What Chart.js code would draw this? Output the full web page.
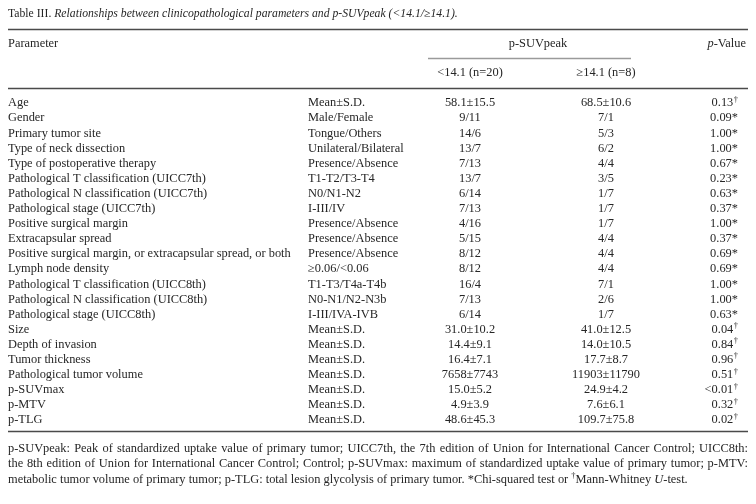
<!DOCTYPE html>
<html>
<head>
<meta charset="utf-8">
<script src="https://cdn.jsdelivr.net/npm/chart.js@4.4.1/dist/chart.umd.min.js"></script>
<style>
html,body{margin:0;padding:0;background:#fff;}
#wrap{position:relative;width:756px;height:504px;}
</style>
</head>
<body>
<div id="wrap"><canvas id="c" width="756" height="504"></canvas></div>
<script>
// ---- data ----
const parameters = ["Age","Gender","Primary tumor site","Type of neck dissection","Type of postoperative therapy","Pathological T classification (UICC7th)","Pathological N classification (UICC7th)","Pathological stage (UICC7th)","Positive surgical margin","Extracapsular spread","Positive surgical margin, or extracapsular spread, or both","Lymph node density","Pathological T classification (UICC8th)","Pathological N classification (UICC8th)","Pathological stage (UICC8th)","Size","Depth of invasion","Tumor thickness","Pathological tumor volume","p-SUVmax","p-MTV","p-TLG"];
const subgroups = ["Mean±S.D.","Male/Female","Tongue/Others","Unilateral/Bilateral","Presence/Absence","T1-T2/T3-T4","N0/N1-N2","I-III/IV","Presence/Absence","Presence/Absence","Presence/Absence","≥0.06/<0.06","T1-T3/T4a-T4b","N0-N1/N2-N3b","I-III/IVA-IVB","Mean±S.D.","Mean±S.D.","Mean±S.D.","Mean±S.D.","Mean±S.D.","Mean±S.D.","Mean±S.D."];
const lowGroup = ["58.1±15.5","9/11","14/6","13/7","7/13","13/7","6/14","7/13","4/16","5/15","8/12","8/12","16/4","7/13","6/14","31.0±10.2","14.4±9.1","16.4±7.1","7658±7743","15.0±5.2","4.9±3.9","48.6±45.3"];
const highGroup = ["68.5±10.6","7/1","5/3","6/2","4/4","3/5","1/7","1/7","1/7","4/4","4/4","4/4","7/1","2/6","1/7","41.0±12.5","14.0±10.5","17.7±8.7","11903±11790","24.9±4.2","7.6±6.1","109.7±75.8"];
const pValues = ["0.13","0.09","1.00","1.00","0.67","0.23","0.63","0.37","1.00","0.37","0.69","0.69","1.00","1.00","0.63","0.04","0.84","0.96","0.51","<0.01","0.32","0.02"];
const pTests = ["†","*","*","*","*","*","*","*","*","*","*","*","*","*","*","†","†","†","†","†","†","†"];
const columnKeys = ["param","sub","low","high","p"];
const headerTop = "p-SUVpeak";
const headerLow = "<14.1 (n=20)";
const headerHigh = "≥14.1 (n=8)";
const titleLead = "Table III. ";
const titleItalic = "Relationships between clinicopathological parameters and p-SUVpeak (<14.1/≥14.1).";
const footLines = [
 "p-SUVpeak: Peak of standardized uptake value of primary tumor; UICC7th, the 7th edition of Union for International Cancer Control; UICC8th:",
 "the 8th edition of Union for International Cancer Control; Control; p-SUVmax: maximum of standardized uptake value of primary tumor; p-MTV:",
 "metabolic tumor volume of primary tumor; p-TLG: total lesion glycolysis of primary tumor. *Chi-squared test or †Mann-Whitney U-test."
];

// ---- layout / style ----
const FONT = '"Liberation Serif","DejaVu Serif",serif';
const FS = 12.4;
const TFS = 11.7;
const INK = '#262626';
const colX = {param:0, sub:300, low:462, high:598, p:730}; // in x-scale units (px from table left)
const colAlign = {param:'left', sub:'left', low:'center', high:'center', p:'right'};
const TL = 8, TR = 748;

function font(style, size){ return (style||'') + ' ' + (size||FS) + 'px ' + FONT; }

// points: one invisible point per cell
const pts = [];
parameters.forEach((p,i)=>{ columnKeys.forEach(k=>pts.push({x:colX[k], y:p, k:k, i:i})); });

const tablePlugin = {
  id:'tablePlugin',
  afterDatasetsDraw(chart){
    const ctx = chart.ctx;
    const xs = chart.scales.x, ys = chart.scales.y;
    const pitch = ys.getPixelForValue(1) - ys.getPixelForValue(0);
    const X = v => xs.getPixelForValue(v);
    ctx.save();
    ctx.fillStyle = INK;
    ctx.textBaseline = 'middle';
    const supFont = (FS*0.68)+'px '+FONT;
    // cells
    const meta = chart.getDatasetMeta(0);
    meta.data.forEach((el,idx)=>{
      const d = pts[idx];
      const i = d.i;
      ctx.font = font();
      ctx.textAlign = colAlign[d.k];
      let txt;
      if(d.k==='param') txt = parameters[i];
      else if(d.k==='sub') txt = subgroups[i];
      else if(d.k==='low') txt = lowGroup[i];
      else if(d.k==='high') txt = highGroup[i];
      if(d.k!=='p'){ ctx.fillText(txt, el.x, el.y); return; }
      const mark = pTests[i];
      if(mark==='†'){
        ctx.font = supFont;
        const mw = ctx.measureText(mark).width;
        ctx.textAlign='right';
        ctx.fillText(mark, el.x, el.y-3.5);
        ctx.font = font();
        ctx.fillText(pValues[i], el.x-mw-0.5, el.y);
      } else {
        ctx.fillText(pValues[i]+mark, el.x, el.y);
      }
    });
    // header
    const y0 = ys.getPixelForValue(0);
    const hy1 = y0 - 59, hy2 = y0 - 30.5;
    ctx.font = font(); ctx.textAlign='left';
    ctx.fillText('Parameter', X(colX.param), hy1);
    ctx.textAlign='center';
    const midPeak = (X(colX.low)+X(colX.high))/2;
    ctx.fillText(headerTop, midPeak, hy1);
    ctx.fillText(headerLow, X(colX.low), hy2);
    ctx.fillText(headerHigh, X(colX.high), hy2);
    // p-Value header
    ctx.textAlign='left';
    ctx.font = font();
    const wv = ctx.measureText('-Value').width;
    ctx.font = font('italic');
    const wp = ctx.measureText('p').width;
    const pvx = X(colX.p) + 8 - wv - wp;
    ctx.fillText('p', pvx, hy1);
    ctx.font = font();
    ctx.fillText('-Value', pvx+wp, hy1);
    // title
    const ty = y0 - 89.5;
    ctx.font = font('', TFS);
    ctx.fillText(titleLead, TL, ty);
    const wl = ctx.measureText(titleLead).width;
    ctx.font = font('italic', TFS);
    ctx.fillText(titleItalic, TL+wl, ty);
    // rules
    function rule(y, x1, x2, col, w){ ctx.beginPath(); ctx.strokeStyle=col; ctx.lineWidth=w; ctx.moveTo(x1,y); ctx.lineTo(x2,y); ctx.stroke(); }
    rule(Math.round(y0 - 74)+0.5, TL, TR, '#4a4a4a', 1.4);
    rule(Math.round(y0 - 45.5)+0.5, X(colX.low)-42, X(colX.high)+25, '#9a9a9a', 1.4);
    rule(Math.round(y0 - 15)+0.5, TL, TR, '#4a4a4a', 1.4);
    const yl = ys.getPixelForValue(parameters.length-1);
    const yb = Math.round(yl + pitch*0.75)+0.5;
    rule(yb, TL, TR, '#4a4a4a', 1.4);
    // footnotes (justified except last)
    const fp = 15.2;
    footLines.forEach((line, li)=>{
      const fy = yb + 17.5 + li*fp;
      const words = line.split(' ');
      const justify = li < footLines.length-1;
      const segs = words.map(w=>{
        const parts = [];
        if(w.startsWith('†')){ parts.push({t:'†', sup:true}); parts.push({t:w.slice(1)}); }
        else if(w==='U-test.'){ parts.push({t:'U', it:true}); parts.push({t:'-test.'}); }
        else parts.push({t:w});
        let width=0;
        parts.forEach(p=>{ ctx.font = p.sup ? supFont : font(p.it?'italic':''); p.w = ctx.measureText(p.t).width; width+=p.w; });
        return {parts, width};
      });
      ctx.font = font();
      const spaceW = ctx.measureText(' ').width;
      const total = segs.reduce((a,s)=>a+s.width,0);
      const gap = justify ? (TR - TL - total)/(segs.length-1) : spaceW;
      let x = TL;
      ctx.textAlign='left';
      segs.forEach(s=>{
        s.parts.forEach(p=>{
          ctx.font = p.sup ? supFont : font(p.it?'italic':'');
          ctx.fillText(p.t, x, p.sup ? fy-3.5 : fy);
          x += p.w;
        });
        x += gap;
      });
    });
    ctx.restore();
  }
};

new Chart(document.getElementById('c'), {
  type:'scatter',
  data:{ datasets:[{ data: pts, pointRadius:0, pointHoverRadius:0, showLine:false }] },
  options:{
    responsive:false, animation:false, events:[],
    layout:{ padding:{ left:TL, right:756-TR, top:95.5, bottom:0 } },
    plugins:{ legend:{display:false}, tooltip:{enabled:false} },
    scales:{
      x:{ type:'linear', min:0, max:TR-TL, display:false },
      y:{ type:'category', labels: parameters, offset:true, display:false }
    }
  },
  plugins:[tablePlugin, {
    id:'sizeRows',
    beforeLayout(chart){
      const rows = parameters.length;
      const pitch = 15.1;
      chart.options.layout.padding.bottom = 504 - 95.5 - rows*pitch;
    }
  }]
});
</script>
</body>
</html>
